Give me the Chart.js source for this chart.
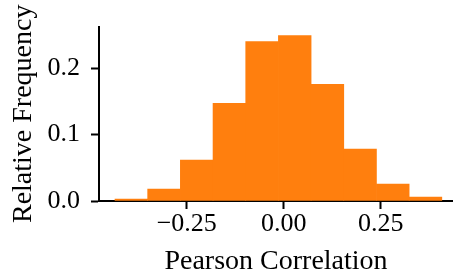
<!DOCTYPE html>
<html>
<head>
<meta charset="utf-8">
<script src="https://cdn.jsdelivr.net/npm/chart.js@4"></script>
<style>
  body { margin: 0; background: #fff; }
  canvas { display: block; }
</style>
</head>
<body>
<canvas id="hist" width="453" height="280"></canvas>
<script>
// histogram bins (centres) and relative frequencies
const binCentres = [-0.3927, -0.3085, -0.2243, -0.1401, -0.0559, 0.0283, 0.1125, 0.1967, 0.2809, 0.3651]
const relFreq = [0.003, 0.018, 0.0615, 0.147, 0.240, 0.249, 0.1755, 0.078, 0.0255, 0.006]
const xTicks = [-0.25, 0, 0.25]
const yTicks = [0, 0.1, 0.2]

const serif = 'Liberation Serif'

var config = {
    type: 'bar',
    data: {
        datasets: [{
            data: binCentres.map((c, i) => ({ x: c, y: relFreq[i] })),
            backgroundColor: '#ff7f0e',
            borderWidth: 0,
            barPercentage: 1,
            categoryPercentage: 1
        }]
    },
    options: {
        responsive: false,
        animation: false,
        layout: { padding: { top: 26, right: 0, left: 0, bottom: 0 } },
        plugins: {
            legend: { display: false },
            tooltip: { enabled: false }
        },
        scales: {
            x: {
                type: 'linear',
                offset: false,
                min: -0.476,
                max: 0.436,
                afterBuildTicks: (s) => { s.ticks = xTicks.map(v => ({ value: v })) },
                afterFit: (s) => { s.height = 79 },
                grid: { offset: false, drawOnChartArea: false, drawTicks: true, tickLength: 8, tickWidth: 2, tickColor: '#000' },
                border: { display: true, color: '#000', width: 2 },
                ticks: {
                    color: '#000',
                    font: { family: serif, size: 26 },
                    padding: 0,
                    maxRotation: 0,
                    callback: (v) => (v < 0 ? '\u2212' : '') + Math.abs(v).toFixed(2)
                },
                title: {
                    display: true,
                    text: 'Pearson Correlation',
                    color: '#000',
                    font: { family: serif, size: 28 },
                    padding: { top: 0, bottom: 2 }
                }
            },
            y: {
                min: 0,
                max: 0.2624,
                afterBuildTicks: (s) => { s.ticks = yTicks.map(v => ({ value: v })) },
                afterFit: (s) => { s.width = 99 },
                grid: { drawOnChartArea: false, drawTicks: true, tickLength: 8, tickWidth: 2, tickColor: '#000' },
                border: { display: true, color: '#000', width: 2 },
                ticks: {
                    color: '#000',
                    font: { family: serif, size: 26 },
                    padding: 11,
                    callback: (v) => v.toFixed(1)
                },
                title: {
                    display: true,
                    text: 'Relative Frequency',
                    color: '#000',
                    font: { family: serif, size: 28 },
                    padding: { top: 7, bottom: 0 }
                }
            }
        }
    }
}

new Chart(document.getElementById('hist'), config)
</script>
</body>
</html>
